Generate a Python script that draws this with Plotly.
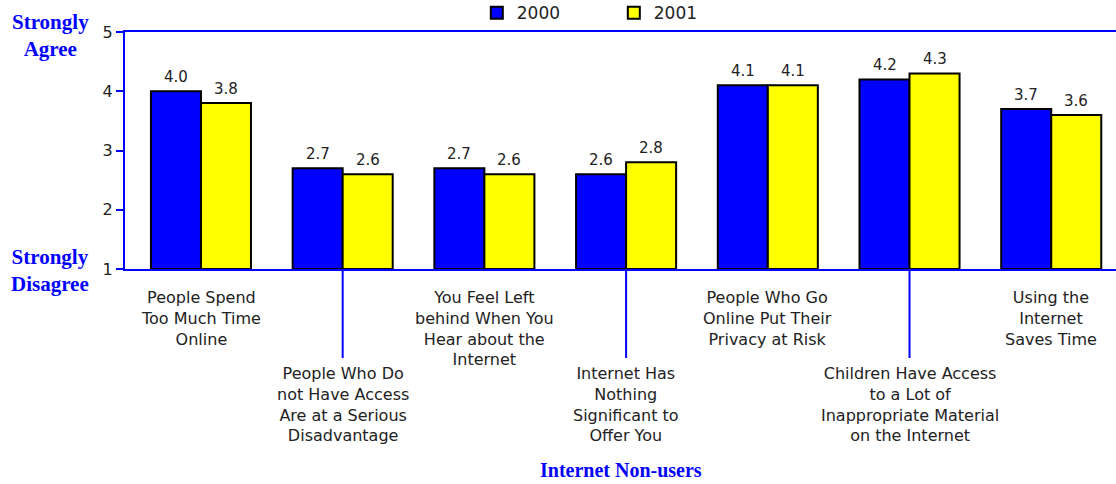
import plotly.graph_objects as go

categories = [
    "People Spend<br>Too Much Time<br>Online",
    "People Who Do<br>not Have Access<br>Are at a Serious<br>Disadvantage",
    "You Feel Left<br>behind When You<br>Hear about the<br>Internet",
    "Internet Has<br>Nothing<br>Significant to<br>Offer You",
    "People Who Go<br>Online Put Their<br>Privacy at Risk",
    "Children Have Access<br>to a Lot of<br>Inappropriate Material<br>on the Internet",
    "Using the<br>Internet<br>Saves Time",
]
values_2000 = [4.0, 2.7, 2.7, 2.6, 4.1, 4.2, 3.7]
values_2001 = [3.8, 2.6, 2.6, 2.8, 4.1, 4.3, 3.6]
series_names = ["2000", "2001"]
y_ticks = [1, 2, 3, 4, 5]

BLUE = "#0000FF"
YELLOW = "#FFFF00"
TXT = "#222222"
SANS = "DejaVu Sans, Verdana, sans-serif"
SERIF = "Liberation Serif, Times New Roman, serif"
BARGAP = 0.294

idx = list(range(len(categories)))

fig = go.Figure()
for name, vals, col in [(series_names[0], values_2000, BLUE), (series_names[1], values_2001, YELLOW)]:
    fig.add_trace(go.Bar(
        x=idx, y=[v - 1 for v in vals], base=1, name=name,
        marker=dict(color=col, line=dict(color="black", width=2)),
        hoverinfo="skip",
    ))

annotations = []
w = 1 - BARGAP
for i in idx:
    for vals, off in [(values_2000, -w / 4), (values_2001, w / 4)]:
        annotations.append(dict(
            x=i + off, y=vals[i], xref="x", yref="y", text=f"{vals[i]:.1f}",
            showarrow=False, yanchor="bottom", yshift=3,
            font=dict(family=SANS, size=15, color=TXT),
        ))
    lower = (i % 2 == 1)
    annotations.append(dict(
        x=i, y=0, xref="x", yref="paper", text=categories[i],
        showarrow=False, yanchor="top", xanchor="center",
        yshift=-93 if lower else -17,
        font=dict(family=SANS, size=16, color=TXT),
    ))

annotations += [
    dict(x=0, y=1, xref="paper", yref="paper", text="<b>Strongly<br>Agree</b>", showarrow=False,
         xanchor="center", yanchor="middle", xshift=-75, yshift=-3,
         font=dict(family=SERIF, size=21, color=BLUE)),
    dict(x=0, y=0, xref="paper", yref="paper", text="<b>Strongly<br>Disagree</b>", showarrow=False,
         xanchor="center", yanchor="middle", xshift=-75, yshift=-1,
         font=dict(family=SERIF, size=21, color=BLUE)),
    dict(x=0.5, y=0, xref="paper", yref="paper", text="<b>Internet Non-users</b>", showarrow=False,
         xanchor="center", yanchor="middle", yshift=-201,
         font=dict(family=SERIF, size=20, color=BLUE)),
]

shapes = []
for i in idx:
    if i % 2 == 1:
        shapes.append(dict(
            type="line", xref="x", yref="paper", x0=i, x1=i,
            ysizemode="pixel", yanchor=0, y0=0, y1=-89,
            line=dict(color=BLUE, width=2), layer="above",
        ))

fig.update_layout(
    width=1116, height=484,
    margin=dict(l=125, r=0, t=32, b=215, autoexpand=False),
    paper_bgcolor="white", plot_bgcolor="white",
    barmode="group", bargap=BARGAP, bargroupgap=0,
    showlegend=True,
    legend=dict(orientation="h", x=0.355, xanchor="left", y=1.155, yanchor="top",
                font=dict(family=SANS, size=17, color=TXT),
                entrywidth=92, entrywidthmode="pixels", bgcolor="rgba(0,0,0,0)"),
    xaxis=dict(range=[-0.536, 6.457], showticklabels=False, ticks="", showgrid=False,
               zeroline=False, showline=True, linecolor=BLUE, linewidth=2, mirror=True,
               automargin=False),
    yaxis=dict(range=[1, 5], tickvals=y_ticks, ticks="outside", ticklen=7, tickwidth=2,
               tickcolor=BLUE, showgrid=False, zeroline=False, showline=True,
               linecolor=BLUE, linewidth=2, automargin=False,
               tickfont=dict(family=SANS, size=16, color=TXT)),
    annotations=annotations,
    shapes=shapes,
)

fig.write_html("out.html", config={"displayModeBar": False},
               post_script="document.body.style.margin='0';")
